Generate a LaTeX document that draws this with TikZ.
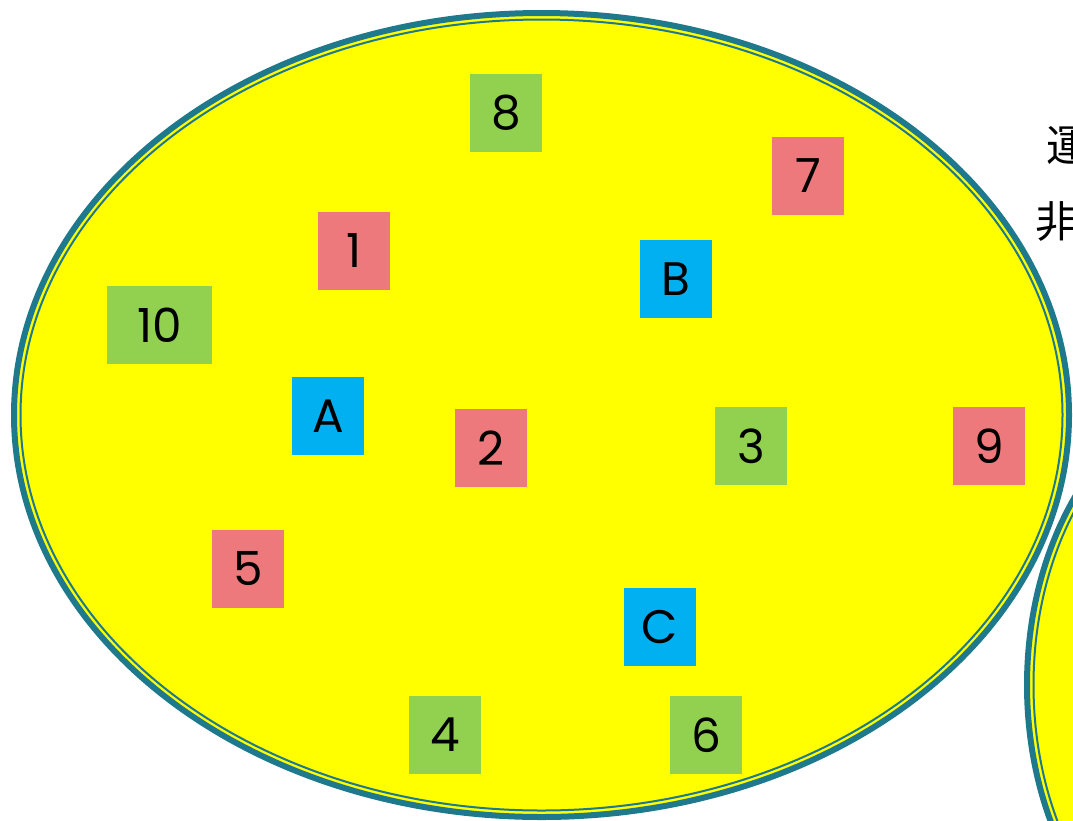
\documentclass[tikz,border=0pt]{standalone}
\usepackage{fontspec}
\usepackage{tikz}
\setmainfont{Poppins}
\newfontfamily\japones{Noto Sans CJK JP}
\definecolor{amarillo}{RGB}{255,255,0}
\definecolor{borde}{RGB}{31,121,141}
\definecolor{verde}{RGB}{146,208,80}
\definecolor{rosa}{RGB}{237,121,125}
\definecolor{celeste}{RGB}{0,176,240}

\begin{document}
\begin{tikzpicture}[x=1pt, y=-1pt,
    caja/.style={minimum width=72, minimum height=78, inner sep=0pt,
                 font=\fontsize{47}{52}\selectfont},
    conjunto/.style={fill=amarillo},
    rayagruesa/.style={draw=borde, line width=6pt},
    rayafina/.style={draw=borde, line width=2pt},
    texto/.style={anchor=west, inner sep=0pt, font=\japones\fontsize{43}{46}\selectfont}]
  \path[use as bounding box] (0,0) rectangle (1073,820);
  \clip (0,0) rectangle (1073,820);
  % conjunto de la derecha
  \path[conjunto] (1244,685) ellipse [x radius=217, y radius=300];
  \path[rayagruesa] (1244,685) ellipse [x radius=217, y radius=300];
  \path[rayafina] (1244,685) ellipse [x radius=210.5, y radius=293.5];
  % conjunto principal
  \path[conjunto] (541.5,415) ellipse [x radius=527.5, y radius=402];
  \path[rayagruesa] (541.5,415) ellipse [x radius=527.5, y radius=402];
  \path[rayafina] (541.5,415) ellipse [x radius=521, y radius=395.5];
  \node[texto] (t1) at (1046,146) {運};
  \node[texto] (t2) at (1035,221) {非};
  \node[caja, fill=verde] (n8) at (506,113) {8};
  \node[caja, fill=rosa] (n7) at (808,176) {7};
  \node[caja, fill=rosa] (n1) at (354,251) {1};
  \node[caja, fill=celeste] (nB) at (676,279) {B};
  \node[caja, fill=verde, minimum width=105] (n10) at (159.5,325) {10};
  \node[caja, fill=celeste] (nA) at (328,416) {A};
  \node[caja, fill=rosa] (n2) at (491,448) {2};
  \node[caja, fill=verde] (n3) at (751,446) {3};
  \node[caja, fill=rosa] (n9) at (989,446) {9};
  \node[caja, fill=rosa] (n5) at (248,569) {5};
  \node[caja, fill=celeste] (nC) at (660,627) {C};
  \node[caja, fill=verde] (n4) at (445,735) {4};
  \node[caja, fill=verde] (n6) at (706,735) {6};
\end{tikzpicture}
\end{document}
